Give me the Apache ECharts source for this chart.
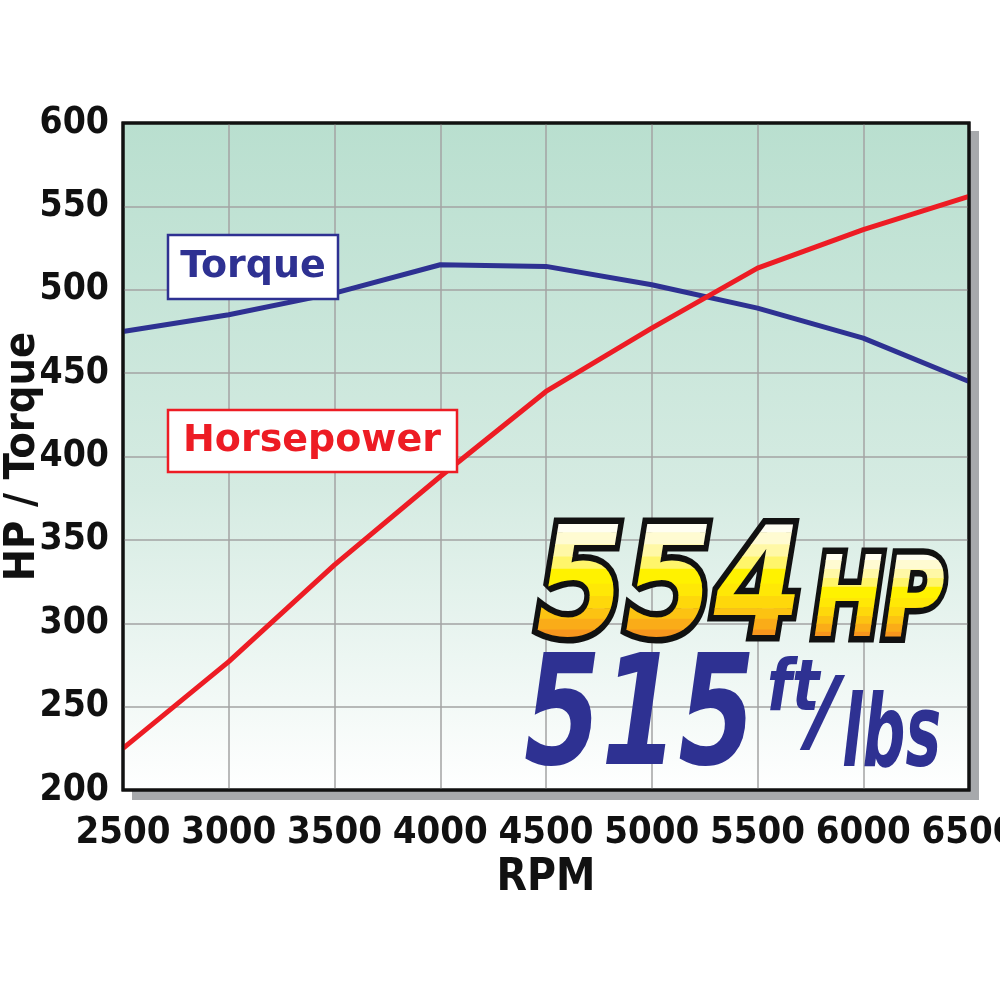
<!DOCTYPE html>
<html><head><meta charset="utf-8">
<script src="https://cdn.jsdelivr.net/npm/echarts@6/dist/echarts.min.js"></script>
<style>html,body{margin:0;padding:0;background:#fff}#c{width:1000px;height:1000px}</style>
</head><body><div id="c"></div>
<script>
const rpm = [2500, 3000, 3500, 4000, 4500, 5000, 5500, 6000, 6500];
const horsepower = [225, 277, 335, 388, 439, 477, 513, 536, 556];
const torque = [475, 485, 498, 515, 514, 503, 489, 471, 445];
const yMin = 200, yMax = 600, yStep = 50;
const xMin = 2500, xMax = 6500, xStep = 500;

const cond = '"DejaVu Sans Condensed", "DejaVu Sans", sans-serif';
const heavy = '"DejaVu Sans", sans-serif';
const blue = '#2e3192', red = '#ed1c24';

// gradient bands for the yellow headline (top -> bottom), as fractions of font size above the text-box bottom
const bandStops = [
  [-1.10, -0.92, '#fffef2'], [-0.92, -0.84, '#fffbd2'], [-0.84, -0.76, '#fff8a6'], [-0.76, -0.68, '#fff56a'],
  [-0.68, -0.58, '#fff200'], [-0.58, -0.50, '#ffe806'], [-0.50, -0.42, '#fed80b'], [-0.42, -0.35, '#fcc312'],
  [-0.35, -0.28, '#faac18'], [-0.28, 0.05, '#f7961d']
];

function headline(text, x, y, size, sx) {
  const font = 'italic bold ' + size + 'px ' + heavy;
  const els = [{type: 'text', x: x, y: y, scaleX: sx, z: 12,
    style: {text: text, fill: 'none', stroke: '#111', lineWidth: 13, lineJoin: 'round', font: font, verticalAlign: 'bottom'}}];
  bandStops.forEach(b => {
    els.push({type: 'text', x: x, y: y, scaleX: sx, z: 13,
      clipPath: {type: 'rect', shape: {x: -100, y: b[0] * size, width: 800, height: (b[1] - b[0]) * size + 0.6}},
      style: {text: text, fill: b[2], font: font, verticalAlign: 'bottom'}});
  });
  return els;
}

const chart = echarts.init(document.getElementById('c'));
chart.setOption({
  animation: false,
  grid: {
    left: 123, right: 31, top: 123, bottom: 210,
    outerBoundsMode: 'none', containLabel: false,
    show: true,
    backgroundColor: {type: 'linear', x: 0, y: 0, x2: 0, y2: 1,
      colorStops: [{offset: 0, color: '#b9dfcf'}, {offset: 0.55, color: '#d5ebe2'}, {offset: 1, color: '#ffffff'}]},
    borderColor: '#111', borderWidth: 3
  },
  xAxis: {
    type: 'value', min: xMin, max: xMax, interval: xStep,
    name: 'RPM', nameLocation: 'middle', nameGap: 64,
    nameTextStyle: {fontFamily: cond, fontWeight: 'bold', fontSize: 44, color: '#111'},
    axisLine: {show: false}, axisTick: {show: false},
    axisLabel: {fontFamily: cond, fontWeight: 'bold', fontSize: 38, color: '#111', margin: 24,
      showMinLabel: true, showMaxLabel: true, hideOverlap: false, formatter: v => String(v)},
    splitLine: {show: true, lineStyle: {color: '#a3a3a3', width: 1.5}}
  },
  yAxis: {
    type: 'value', min: yMin, max: yMax, interval: yStep,
    name: 'HP / Torque', nameLocation: 'middle', nameGap: 79, nameRotate: 90, nameMoveOverlap: false,
    nameTextStyle: {fontFamily: cond, fontWeight: 'bold', fontSize: 43, color: '#111'},
    axisLine: {show: false}, axisTick: {show: false},
    axisLabel: {fontFamily: cond, fontWeight: 'bold', fontSize: 37, color: '#111', margin: 14,
      showMinLabel: true, showMaxLabel: true, formatter: v => String(v)},
    splitLine: {show: true, lineStyle: {color: '#a3a3a3', width: 1.5}}
  },
  series: [
    {name: 'Torque', type: 'line', data: rpm.map((r, i) => [r, torque[i]]),
     symbol: 'none', lineStyle: {color: blue, width: 5, join: 'round'}, z: 3},
    {name: 'Horsepower', type: 'line', data: rpm.map((r, i) => [r, horsepower[i]]),
     symbol: 'none', lineStyle: {color: red, width: 5, join: 'round'}, z: 4}
  ],
  graphic: [
    {type: 'rect', z: -10, shape: {x: 132, y: 131, width: 847, height: 669}, style: {fill: '#a7a9ac'}},
    {type: 'rect', z: 20, shape: {x: 123, y: 123, width: 846, height: 667}, style: {fill: 'none', stroke: '#111', lineWidth: 3}},
    {type: 'rect', shape: {x: 168, y: 235, width: 170, height: 64}, style: {fill: '#fff', stroke: blue, lineWidth: 2.5}, z: 10},
    {type: 'text', x: 253, y: 267, style: {text: 'Torque', fill: blue, font: 'bold 38px "DejaVu Sans", sans-serif', align: 'center', verticalAlign: 'middle'}, z: 11},
    {type: 'rect', shape: {x: 168, y: 410, width: 289, height: 62}, style: {fill: '#fff', stroke: red, lineWidth: 2.5}, z: 10},
    {type: 'text', x: 312, y: 441, style: {text: 'Horsepower', fill: red, font: 'bold 38px "DejaVu Sans", sans-serif', align: 'center', verticalAlign: 'middle'}, z: 11}
  ].concat(
    headline('554', 536, 672, 152, 0.84),
    headline('HP', 813, 663, 112, 0.75),
    [
      {type: 'text', x: 524, y: 801, scaleX: 0.72, z: 13, style: {text: '515', fill: blue, font: 'italic bold 154px ' + heavy, verticalAlign: 'bottom'}},
      {type: 'text', x: 767, y: 727, scaleX: 0.8, z: 13, style: {text: 'ft', fill: blue, font: 'italic bold 72px ' + heavy, verticalAlign: 'bottom'}},
      {type: 'text', x: 808, y: 764, scaleX: 0.95, z: 13, style: {text: '/', fill: blue, font: 'italic bold 90px ' + heavy, verticalAlign: 'bottom'}},
      {type: 'text', x: 842, y: 790, scaleX: 0.6, z: 13, style: {text: 'lbs', fill: blue, font: 'italic bold 100px ' + heavy, verticalAlign: 'bottom'}}
    ]
  )
});
</script></body></html>
